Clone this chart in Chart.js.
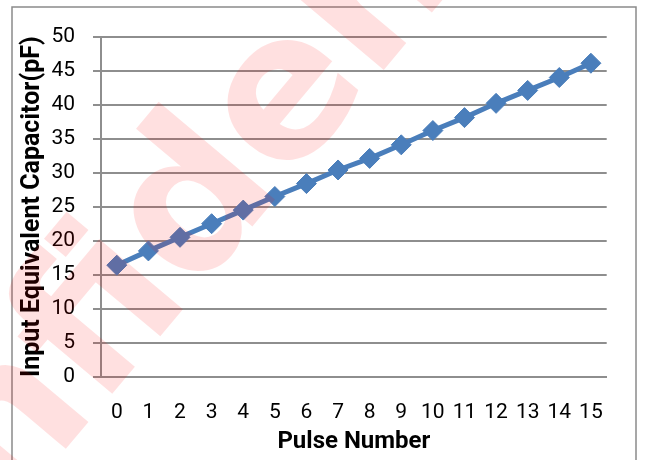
<!DOCTYPE html>
<html><head><meta charset="utf-8">
<script src="https://cdn.jsdelivr.net/npm/chart.js@4/dist/chart.umd.min.js"></script>
<style>html,body{margin:0;padding:0;background:#fff;}#wrap{width:645px;height:460px;}</style>
</head><body><div id="wrap"><canvas id="c" width="645" height="460"></canvas></div>
<script>
const pulseNumbers = ['0','1','2','3','4','5','6','7','8','9','10','11','12','13','14','15'];
const capacitance = [16.4, 18.5, 20.5, 22.5, 24.5, 26.5, 28.4, 30.4, 32.1, 34.1, 36.2, 38.1, 40.2, 42.1, 44.0, 46.1];
const yTickValues = [0, 5, 10, 15, 20, 25, 30, 35, 40, 45, 50];
const xTitle = 'Pulse Number';
const yTitle = 'Input Equivalent Capacitor(pF)';
const watermarkText = 'Confidential';

const FONT = 'Roboto, "Open Sans", sans-serif';
const GRID = '#8e8e8e';

const framePlugin = {
  id: 'frame',
  beforeDraw(chart) {
    const ctx = chart.ctx;
    ctx.save();
    ctx.fillStyle = '#fff';
    ctx.fillRect(0, 0, chart.width, chart.height);
    ctx.strokeStyle = '#8a8a8a';
    ctx.lineWidth = 1.5;
    ctx.strokeRect(12, 7, 624, 480);
    ctx.restore();
  }
};

const watermarkPlugin = {
  id: 'watermark',
  afterDraw(chart) {
    const ctx = chart.ctx;
    ctx.save();
    const size = 200;
    ctx.font = 'bold ' + size + 'px "DejaVu Sans", sans-serif';
    const pre = ctx.measureText(watermarkText.slice(0, 6)).width;
    const ew = ctx.measureText('e').width;
    ctx.translate(288, 100);
    ctx.rotate(-50 * Math.PI / 180);
    ctx.fillStyle = 'rgba(255,0,0,0.12)';
    ctx.textBaseline = 'alphabetic';
    ctx.textAlign = 'left';
    ctx.fillText(watermarkText, -(pre + ew / 2), size * 0.27);
    ctx.restore();
  }
};

new Chart(document.getElementById('c'), {
  type: 'line',
  data: {
    labels: pulseNumbers,
    datasets: [{
      data: capacitance,
      borderColor: '#4a7ebb',
      backgroundColor: '#4a7ebb',
      borderWidth: 5,
      pointStyle: 'rectRot',
      pointRadius: 10,
      pointHoverRadius: 10,
      pointBackgroundColor: '#4a7ebb',
      pointBorderColor: '#4a7ebb',
      pointBorderWidth: 1,
      tension: 0,
      fill: false
    }]
  },
  options: {
    responsive: false,
    animation: false,
    devicePixelRatio: 1,
    layout: { padding: { left: 0, top: 36.7, right: 38.3, bottom: 0 } },
    plugins: { legend: { display: false }, tooltip: { enabled: false } },
    scales: {
      x: {
        type: 'category',
        offset: true,
        grid: { display: false, drawTicks: false },
        border: { display: true, color: GRID, width: 2 },
        ticks: { color: '#000', font: { family: FONT, size: 21 }, padding: 23, maxRotation: 0, autoSkip: false },
        title: { display: true, text: xTitle, color: '#000', font: { family: FONT, size: 24, weight: 'bold' }, padding: { top: 0, bottom: 4 } },
        afterFit(s) { s.height = 83.3; }
      },
      y: {
        min: 0, max: 50,
        afterBuildTicks(s) { s.ticks = yTickValues.map(v => ({ value: v })); },
        grid: { color: GRID, lineWidth: 2, tickLength: 8, drawTicks: true },
        border: { display: true, color: GRID, width: 2 },
        ticks: { color: '#000', font: { family: FONT, size: 21 }, padding: 18 },
        title: { display: true, text: yTitle, color: '#000', font: { family: FONT, size: 25, weight: 'bold' }, padding: { top: 18, bottom: 0 } },
        afterFit(s) { s.width = 101; }
      }
    }
  },
  plugins: [framePlugin, watermarkPlugin]
});
</script></body></html>
